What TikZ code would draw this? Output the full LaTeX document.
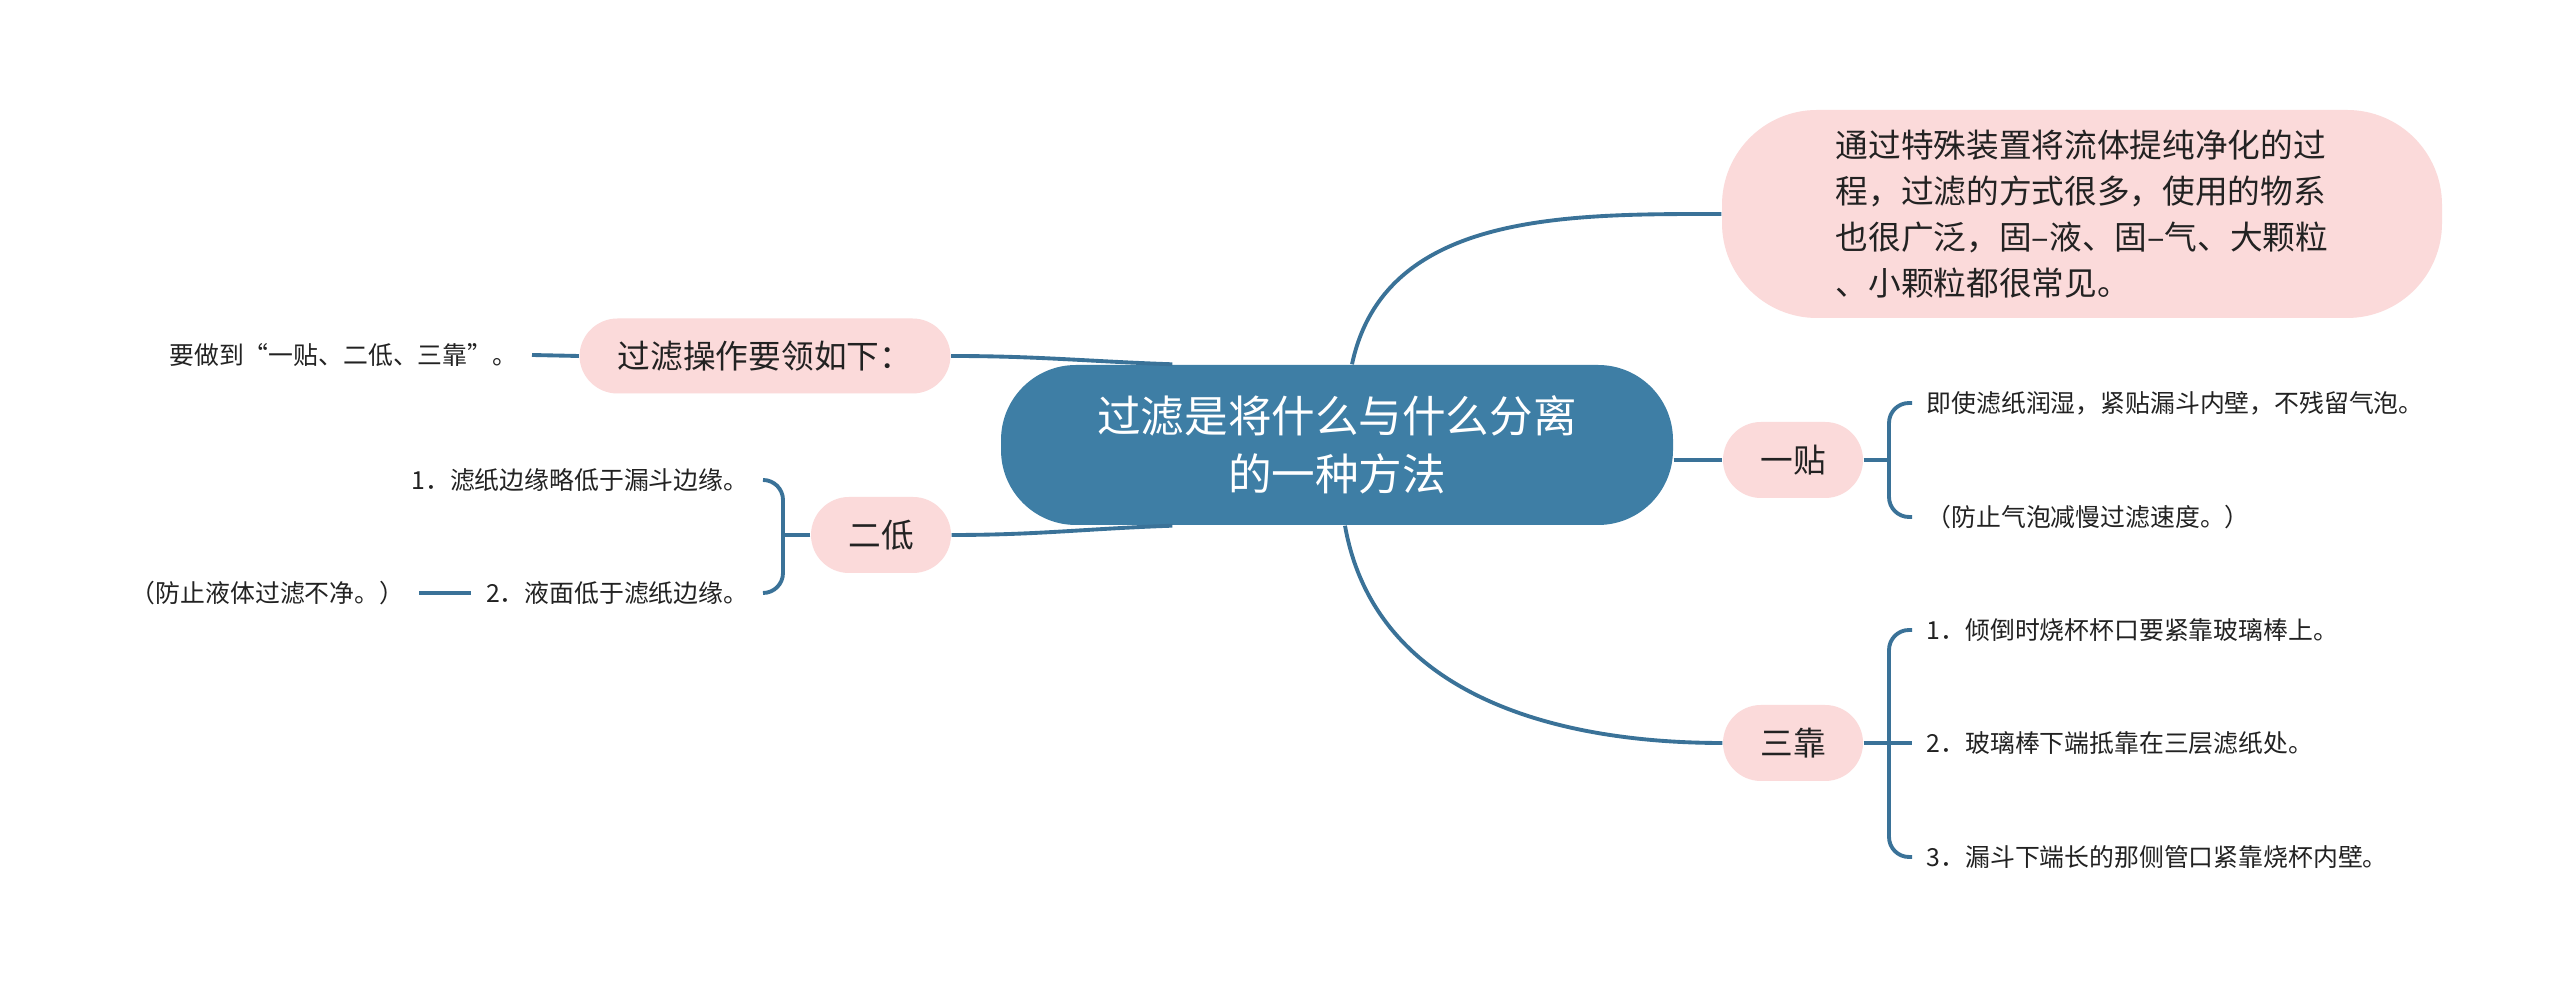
\documentclass[tikz,border=0pt]{standalone}
\usepackage{fontspec}
\usepackage{xcolor}
\usepackage{tikz}
\usetikzlibrary{positioning, calc}
\newfontfamily\cjk{Noto Sans CJK SC}
\definecolor{topicblue}{RGB}{62,126,165}
\definecolor{linkblue}{RGB}{58,114,152}
\definecolor{subpink}{RGB}{251,218,218}
\definecolor{leafink}{RGB}{34,34,34}
\tikzset{
  topic/.style  = {rectangle, rounded corners=0.75cm, fill=topicblue,
                   text=white, minimum width=6.72cm, minimum height=1.60cm,
                   align=center, font=\cjk\fontsize{12.4}{16.5}\selectfont},
  subtopic/.style = {rectangle, rounded corners=0.38cm, fill=subpink,
                   text=leafink, minimum width=1.40cm, minimum height=0.76cm,
                   align=center, font=\cjk\fontsize{9.3}{13.1}\selectfont},
  leaf/.style   = {inner xsep=0.14cm, inner ysep=2pt, text=leafink,
                   font=\cjk\fontsize{7.07}{9}\selectfont},
  conn/.style   = {draw=linkblue, line width=1.1pt},
  brace/.style  = {conn, rounded corners=0.2cm},
}
\begin{document}
\begin{tikzpicture}
  \useasboundingbox[fill=white] (0,0) rectangle (25.6,9.96);

  % main topic and summary
  \node[topic] (central) at (13.37,5.51) {过滤是将什么与什么分离\\的一种方法};
  \node[subtopic, rounded corners=0.95cm, minimum width=7.20cm,
        minimum height=2.08cm, align=left] (summary) at (20.82,7.82)
    {通过特殊装置将流体提纯净化的过\\程，过滤的方式很多，使用的物系\\也很广泛，固–液、固–气、大颗粒\\、小颗粒都很常见。};

  % left branches
  \node[subtopic, minimum width=3.71cm, minimum height=0.75cm] (guolv) at (7.65,6.40) {过滤操作要领如下：};
  \node[leaf, anchor=east] (gvnote) at (5.32,6.41) {要做到“一贴、二低、三靠”。};
  \node[subtopic] (erdi) at (8.81,4.61) {二低};
  \node[leaf, anchor=east] (ed1) at (7.63,5.16) {1．滤纸边缘略低于漏斗边缘。};
  \node[leaf, anchor=east] (ed2) at (7.63,4.03) {2．液面低于滤纸边缘。};
  \node[leaf, anchor=east] (ednote) at (4.19,4.03) {（防止液体过滤不净。）};
  \coordinate (lb) at (7.83,0);

  % right branches
  \node[subtopic] (yitie) at (17.93,5.36) {一贴};
  \node[leaf, anchor=west] (yt1) at (19.12,5.93) {即使滤纸润湿，紧贴漏斗内壁，不残留气泡。};
  \node[leaf, anchor=west] (yt2) at (19.12,4.79) {（防止气泡减慢过滤速度。）};
  \node[subtopic] (sankao) at (17.93,2.53) {三靠};
  \node[leaf, anchor=west] (sk1) at (19.12,3.66) {1．倾倒时烧杯杯口要紧靠玻璃棒上。};
  \node[leaf, anchor=west] (sk2) at (19.12,2.53) {2．玻璃棒下端抵靠在三层滤纸处。};
  \node[leaf, anchor=west] (sk3) at (19.12,1.39) {3．漏斗下端长的那侧管口紧靠烧杯内壁。};
  \coordinate (rb) at (18.89,0);

  % links from the main topic
  \draw[conn] (guolv.east) to[out=0,in=178] ($(central.north west)+(1.72,0)$);
  \draw[conn] (erdi.east) to[out=0,in=182] ($(central.south west)+(1.72,0)$);
  \draw[conn] ($(central.north)+(0.15,0)$) to[out=78,in=180] (summary.west);
  \draw[conn] ($(central.south)+(0.08,0)$) to[out=-80,in=180] (sankao.west);
  \draw[conn] (yitie.west -| central.east) -- (yitie.west);

  % links to the leaves
  \draw[conn] (gvnote.east) -- (guolv.west);
  \draw[conn] (ednote.east) -- (ed2.west);
  \draw[conn] (erdi.west) -- (lb |- erdi);
  \draw[brace] (ed1.east) -| (lb |- erdi) |- (ed2.east);
  \draw[conn] (yitie.east) -- (rb |- yitie);
  \draw[brace] (yt1.west) -| (rb |- yitie) |- (yt2.west);
  \draw[conn] (sankao.east) -- (sk2.west);
  \draw[brace] (sk1.west) -| (rb |- sk2) |- (sk3.west);
\end{tikzpicture}
\end{document}
